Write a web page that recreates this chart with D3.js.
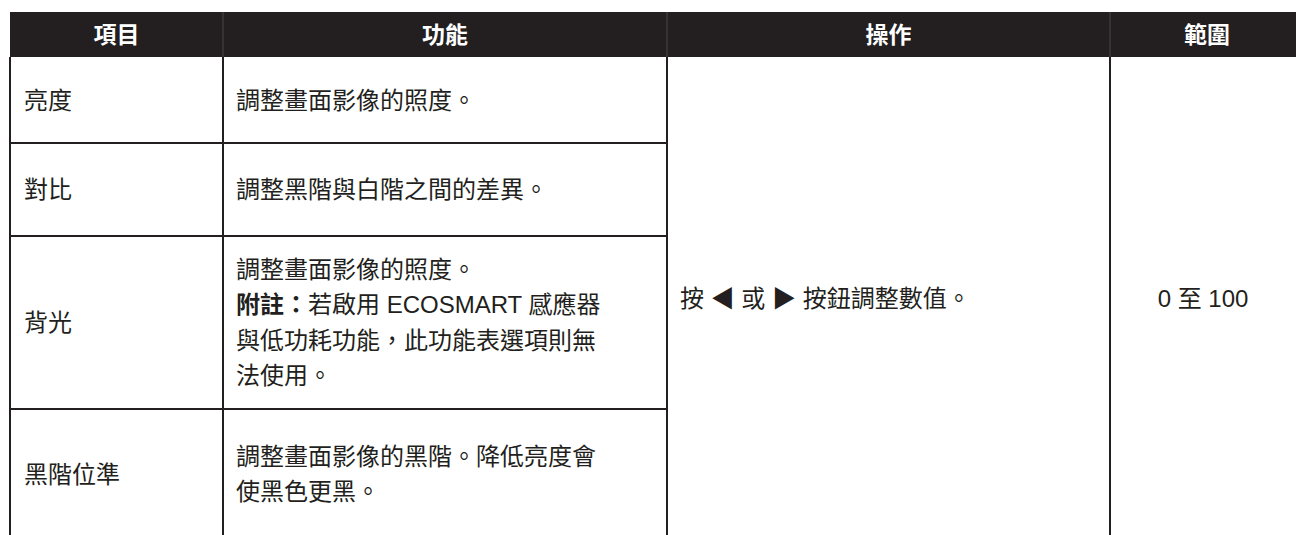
<!DOCTYPE html>
<html><head><meta charset="utf-8">
<script src="https://cdn.jsdelivr.net/npm/d3@7"></script>
<style>html,body{margin:0;padding:0;background:#fff;overflow:hidden}</style>
</head><body>
<svg id="t" width="1296" height="535"></svg>
<script>
// ---- data ----
const headers = ["項目", "功能", "操作", "範圍"];
const items = ["亮度", "對比", "背光", "黑階位準"];
const functions = [
  [[{t:"調整畫面影像的照度。"}]],
  [[{t:"調整黑階與白階之間的差異。"}]],
  [[{t:"調整畫面影像的照度。"}],
   [{t:"附註：",b:true},{t:"若啟用 ECOSMART 感應器"}],
   [{t:"與低功耗功能，此功能表選項則無"}],
   [{t:"法使用。"}]],
  [[{t:"調整畫面影像的黑階。降低亮度會"}],
   [{t:"使黑色更黑。"}]]
];
const operation = "按 ◀ 或 ▶ 按鈕調整數值。";
const range = "0 至 100";

// ---- layout ----
const W = 1296, H = 535;
const colEdges = [10, 223, 667, 1110, 1296];
const headTop = 12, headBottom = 57;
const rowEdges = [57, 143, 236, 409, 539];
const ink = "#231f20";
const font = "'Liberation Sans','Noto Sans CJK TC',sans-serif";
const lineH = 35.5;

const svg = d3.select("#t");
const x = i => colEdges[i];
const rowScale = d3.scaleOrdinal().domain(d3.range(items.length)).range(d3.range(items.length));

// header
svg.append("rect").attr("x", colEdges[0]).attr("y", headTop)
  .attr("width", W - colEdges[0]).attr("height", headBottom - headTop).attr("fill", ink);
svg.selectAll("line.hsep").data(colEdges.slice(1, -1)).join("line")
  .attr("x1", d => d).attr("x2", d => d).attr("y1", headTop).attr("y2", headBottom)
  .attr("stroke", "#4a4647").attr("stroke-width", 1);
svg.selectAll("text.head").data(headers).join("text")
  .attr("x", (d, i) => (x(i) + x(i + 1)) / 2 + (i === 3 ? 4 : 0))
  .attr("y", (headTop + headBottom) / 2).attr("dy", "0.36em")
  .attr("text-anchor", "middle").attr("fill", "#fff")
  .attr("font-family", font).attr("font-weight", "bold").attr("font-size", 23)
  .text(d => d);

// grid lines
const g = svg.append("g").attr("stroke", ink).attr("stroke-width", 2);
// vertical lines
colEdges.slice(0, -1).forEach(cx => {
  g.append("line").attr("x1", cx).attr("x2", cx).attr("y1", headBottom).attr("y2", H);
});
// horizontal row lines (only columns 0-1)
rowEdges.slice(1, -1).forEach(ry => {
  g.append("line").attr("x1", colEdges[0] - 1).attr("x2", colEdges[2]).attr("y1", ry).attr("y2", ry);
});

// item cells
items.forEach((it, i) => {
  const cy = (rowEdges[i] + rowEdges[i + 1]) / 2;
  svg.append("text").attr("x", x(0) + 14).attr("y", cy).attr("dy", "0.36em")
    .attr("font-family", font).attr("font-size", 24).attr("fill", ink).text(it);
  const lines = functions[i];
  const y0 = cy - (lines.length - 1) * lineH / 2;
  lines.forEach((ln, j) => {
    const t = svg.append("text").attr("x", x(1) + 13).attr("y", y0 + j * lineH).attr("dy", "0.36em")
      .attr("font-family", font).attr("font-size", 24).attr("fill", ink);
    ln.forEach(seg => t.append("tspan").attr("font-weight", seg.b ? "bold" : "normal").text(seg.t));
  });
});

// merged cells
const my = (rowEdges[0] + rowEdges[rowEdges.length - 1]) / 2;
svg.append("text").attr("x", x(2) + 13).attr("y", my).attr("dy", "0.36em")
  .attr("font-family", font).attr("font-size", 24).attr("fill", ink).text(operation);
svg.append("text").attr("x", (x(3) + x(4)) / 2).attr("y", my).attr("dy", "0.36em")
  .attr("text-anchor", "middle")
  .attr("font-family", font).attr("font-size", 24).attr("fill", ink).text(range);
</script>
</body></html>
